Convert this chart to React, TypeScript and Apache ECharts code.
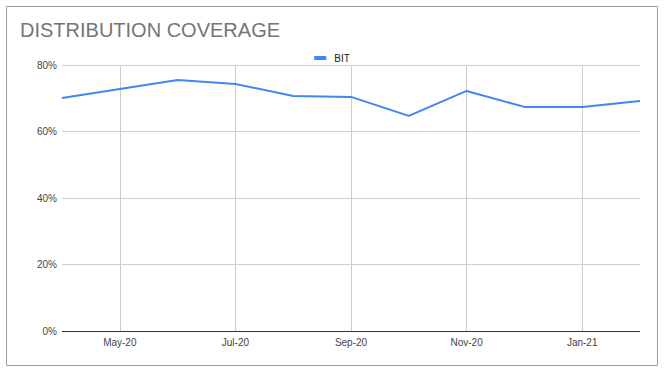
import React, { useEffect, useRef } from "react";
import * as echarts from "echarts";

const categories = ["Apr-20", "May-20", "Jun-20", "Jul-20", "Aug-20", "Sep-20", "Oct-20", "Nov-20", "Dec-20", "Jan-21", "Feb-21"];
const bitValues = [0.701, 0.728, 0.755, 0.743, 0.707, 0.704, 0.647, 0.722, 0.674, 0.674, 0.692];
const yTicks = [0, 0.2, 0.4, 0.6, 0.8];

export default function App() {
  const ref = useRef<HTMLDivElement>(null);
  useEffect(() => {
    if (!ref.current) return;
    const chart = echarts.init(ref.current, null, { renderer: "svg" });
    chart.setOption({
      animation: false,
      backgroundColor: "#ffffff",
      textStyle: { fontFamily: "Liberation Sans, Arial, sans-serif" },
      title: {
        text: "DISTRIBUTION COVERAGE",
        left: 15,
        top: 15,
        textStyle: { fontSize: 20, fontWeight: "normal", color: "#757575", fontFamily: "Liberation Sans, Arial, sans-serif" },
      },
      legend: {
        top: 48,
        left: "center",
        itemWidth: 12,
        itemHeight: 4,
        icon: "rect",
        itemGap: 8,
        textStyle: { fontSize: 10, color: "#222222", padding: [0, 0, 0, 3] },
        data: ["BIT"],
      },
      graphic: [
        {
          type: "rect",
          shape: { x: 6.5, y: 6.5, width: 651, height: 359 },
          style: { fill: "none", stroke: "#9e9e9e", lineWidth: 1 },
          silent: true,
        },
      ],
      grid: { left: 62, right: 24, top: 65, bottom: 39, containLabel: false },
      xAxis: {
        type: "category",
        data: categories,
        boundaryGap: false,
        axisLine: { show: false },
        axisTick: { show: false },
        axisLabel: {
          interval: (i: number) => i % 2 === 1,
          color: "#444444",
          fontSize: 10,
          margin: 6,
        },
        splitLine: {
          show: true,
          interval: (i: number) => i % 2 === 1,
          lineStyle: { color: "#cccccc", width: 1 },
        },
      },
      yAxis: {
        type: "value",
        min: yTicks[0],
        max: yTicks[yTicks.length - 1],
        interval: 0.2,
        axisLine: { show: false },
        axisTick: { show: false },
        axisLabel: {
          formatter: (v: number) => Math.round(v * 100) + "%",
          color: "#444444",
          fontSize: 10,
          margin: 5,
        },
        splitLine: { lineStyle: { color: "#cccccc", width: 1 } },
      },
      series: [
        {
          name: "BIT",
          type: "line",
          data: bitValues,
          symbol: "none",
          color: "#4285f4",
          lineStyle: { width: 2, color: "#4285f4" },
          markLine: {
            silent: true,
            symbol: "none",
            label: { show: false },
            lineStyle: { color: "#333333", width: 1, type: "solid" },
            data: [{ yAxis: 0 }],
          },
        },
      ],
    });
    return () => chart.dispose();
  }, []);
  return (
    <div
      ref={ref}
      style={{ position: "absolute", left: 0, top: 0, width: 664, height: 370 }}
    />
  );
}
